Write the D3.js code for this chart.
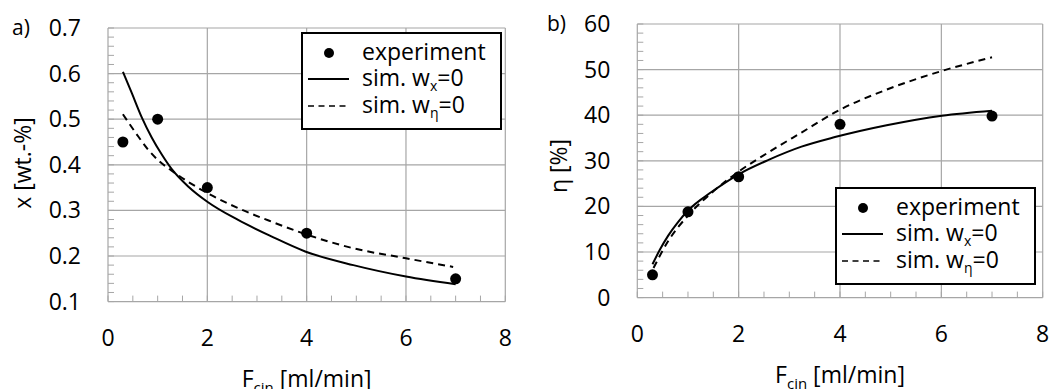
<!DOCTYPE html>
<html><head><meta charset="utf-8">
<script src="https://cdn.jsdelivr.net/npm/d3@7"></script>
<style>
html,body{margin:0;padding:0;background:#fff;}
svg text{font-family:"Open Sans",sans-serif;fill:#000;}
</style></head>
<body>
<svg id="c" width="1051" height="389"></svg>
<script>
// ---- data ----
const expF = [0.3, 1, 2, 4, 7];
const expX = [0.45, 0.50, 0.35, 0.25, 0.15];
const expEta = [5, 18.8, 26.5, 38, 39.8];

const simXwxF = [0.3, 0.48, 0.68, 0.88, 1.08, 1.28, 1.62, 2.0, 2.62, 3.29, 3.97, 4.94, 6.0, 7.0];
const simXwx  = [0.604, 0.557, 0.504, 0.460, 0.423, 0.391, 0.352, 0.319, 0.279, 0.243, 0.210, 0.180, 0.155, 0.138];
const simXweF = [0.3, 0.61, 0.81, 1.01, 1.31, 1.95, 2.62, 3.30, 4.0, 4.94, 6.0, 6.95];
const simXwe  = [0.511, 0.462, 0.433, 0.410, 0.385, 0.341, 0.305, 0.275, 0.247, 0.217, 0.195, 0.176];

const simEwxF = [0.3, 0.45, 0.61, 0.8, 1.01, 1.47, 2.01, 2.59, 3.24, 3.9, 4.92, 6.01, 7.0];
const simEwx  = [7.3, 10.6, 13.6, 16.5, 19.2, 23.2, 27.1, 30.2, 33.1, 35.2, 37.8, 39.9, 41.0];
const simEweF = [0.32, 0.61, 1.01, 1.47, 2.01, 2.58, 3.24, 4.0, 4.92, 6.01, 7.0];
const simEwe  = [6.5, 12.4, 18.1, 23.0, 27.7, 31.8, 36.2, 41.2, 45.6, 49.7, 52.7];

const xTicks = [0, 2, 4, 6, 8];
const yTicksA = [0.1, 0.2, 0.3, 0.4, 0.5, 0.6, 0.7];
const yTicksB = [0, 10, 20, 30, 40, 50, 60];

const svg = d3.select("#c");
const grid = "#a6a6a6";
const FS = 23;

function panel(o) {
  const g = svg.append("g");
  const x = d3.scaleLinear().domain([0, 8]).range([o.x0, o.x1]);
  const y = d3.scaleLinear().domain(o.yDom).range([o.yBot, o.yTop]);
  // grid
  g.selectAll(".gx").data(xTicks).enter().append("line")
    .attr("x1", d => x(d)).attr("x2", d => x(d)).attr("y1", o.yTop).attr("y2", o.yBot)
    .attr("stroke", grid).attr("stroke-width", 1.2);
  g.selectAll(".gy").data(o.yTicks).enter().append("line")
    .attr("x1", o.x0).attr("x2", o.x1).attr("y1", d => y(d)).attr("y2", d => y(d))
    .attr("stroke", grid).attr("stroke-width", 1.2);
  // minor ticks
  const mx = d3.range(0, 8.001, 0.5);
  g.selectAll(".mx").data(mx).enter().append("line")
    .attr("x1", d => x(d)).attr("x2", d => x(d)).attr("y1", o.yBot).attr("y2", o.yBot - 6)
    .attr("stroke", grid).attr("stroke-width", 1);
  const my = d3.range(0, 31).map(i => o.yDom[0] + i * (o.yDom[1] - o.yDom[0]) / 30);
  g.selectAll(".my").data(my).enter().append("line")
    .attr("x1", o.x0).attr("x2", o.x0 + 6).attr("y1", d => y(d)).attr("y2", d => y(d))
    .attr("stroke", grid).attr("stroke-width", 1);
  // tick labels
  g.selectAll(".tx").data(xTicks).enter().append("text")
    .attr("x", d => x(d)).attr("y", o.yBot + 44).attr("text-anchor", "middle")
    .attr("font-size", FS).text(d => d);
  g.selectAll(".ty").data(o.yTicks).enter().append("text")
    .attr("x", o.x0 - 27).attr("y", d => y(d) + 8).attr("text-anchor", "end")
    .attr("font-size", FS).text(o.fmt);
  // axis titles
  const xt = g.append("text").attr("x", (o.x0 + o.x1) / 2).attr("y", o.yBot + 85)
    .attr("text-anchor", "middle").attr("font-size", FS);
  xt.append("tspan").text("F");
  xt.append("tspan").attr("font-size", 15).attr("dy", 6).text("cin");
  xt.append("tspan").attr("dy", -6).text(" [ml/min]");
  g.append("text").attr("transform", `translate(${o.ytX},${o.ytY}) rotate(-90)`)
    .attr("text-anchor", "middle").attr("font-size", FS).text(o.yTitle);
  g.append("text").attr("x", o.lblX).attr("y", o.lblY).attr("font-size", 21).text(o.lbl);
  // curves
  const line = d3.line().x(d => x(d[0])).y(d => y(d[1])).curve(d3.curveMonotoneX);
  g.append("path").attr("d", line(d3.zip(o.s1F, o.s1))).attr("fill", "none")
    .attr("stroke", "#000").attr("stroke-width", 2);
  g.append("path").attr("d", line(d3.zip(o.s2F, o.s2))).attr("fill", "none")
    .attr("stroke", "#000").attr("stroke-width", 2).attr("stroke-dasharray", "7,5");
  g.selectAll(".pt").data(d3.zip(expF, o.exp)).enter().append("circle")
    .attr("cx", d => x(d[0])).attr("cy", d => y(d[1])).attr("r", 5.5).attr("fill", "#000");
  // legend
  const L = g.append("g").attr("transform", `translate(${o.lx},${o.ly})`);
  L.append("rect").attr("x", 0).attr("y", 0).attr("width", 199).attr("height", 96)
    .attr("fill", "#fff").attr("stroke", "#000").attr("stroke-width", 2);
  L.append("circle").attr("cx", 27).attr("cy", 20).attr("r", 5).attr("fill", "#000");
  L.append("line").attr("x1", 6).attr("x2", 47).attr("y1", 46).attr("y2", 46)
    .attr("stroke", "#000").attr("stroke-width", 2);
  L.append("line").attr("x1", 6).attr("x2", 47).attr("y1", 73).attr("y2", 73)
    .attr("stroke", "#000").attr("stroke-width", 1.5).attr("stroke-dasharray", "6,4.5");
  L.append("text").attr("x", 60).attr("y", 27).attr("font-size", FS).text("experiment");
  const t1 = L.append("text").attr("x", 60).attr("y", 53).attr("font-size", FS);
  t1.append("tspan").text("sim. w");
  t1.append("tspan").attr("font-size", 14).attr("dy", 5).text("x");
  t1.append("tspan").attr("dy", -5).text("=0");
  const t2 = L.append("text").attr("x", 60).attr("y", 80).attr("font-size", FS);
  t2.append("tspan").text("sim. w");
  t2.append("tspan").attr("font-size", 14).attr("dy", 5).text("η");
  t2.append("tspan").attr("dy", -5).text("=0");
}

panel({
  x0: 108, x1: 505.3, yTop: 28, yBot: 301.6, yDom: [0.1, 0.7], yTicks: yTicksA,
  fmt: d => d.toFixed(1), yTitle: "x [wt.-%]", ytX: 31, ytY: 163,
  lbl: "a)", lblX: 12, lblY: 35,
  exp: expX, s1F: simXwxF, s1: simXwx, s2F: simXweF, s2: simXwe,
  lx: 302, ly: 33
});
panel({
  x0: 637.3, x1: 1042.7, yTop: 24, yBot: 297.6, yDom: [0, 60], yTicks: yTicksB,
  fmt: d => d, yTitle: "η [%]", ytX: 567, ytY: 166,
  lbl: "b)", lblX: 547, lblY: 31,
  exp: expEta, s1F: simEwxF, s1: simEwx, s2F: simEweF, s2: simEwe,
  lx: 836, ly: 188
});
</script>
</body></html>
